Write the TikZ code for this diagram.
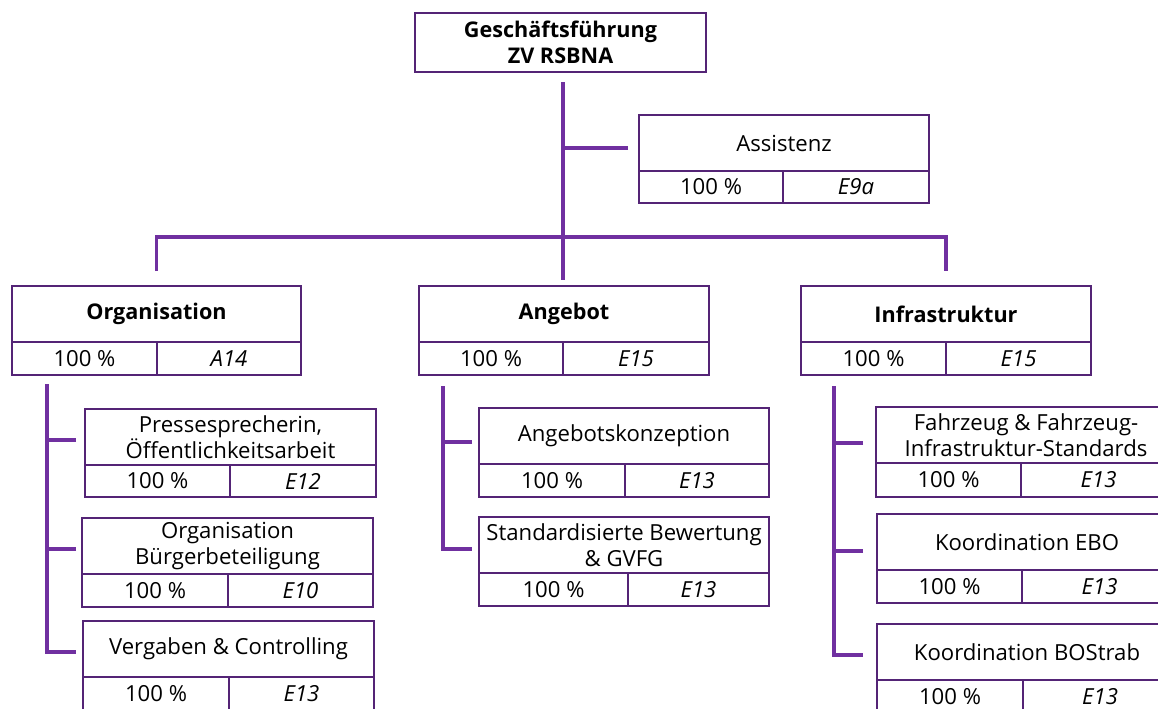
\documentclass[tikz,border=0pt]{standalone}
\usepackage{fontspec}
\setmainfont{Open Sans}
\usetikzlibrary{calc}

\definecolor{boxlila}{RGB}{84,36,118}
\definecolor{linklila}{RGB}{112,48,160}

\tikzset{
  feld/.style={draw=boxlila, line width=1.1pt, inner sep=1pt, outer sep=0pt, anchor=north west,
    align=center, font=\fontsize{12.6}{14.5}\selectfont},
  kopf/.style={feld, font=\fontsize{12.3}{14.5}\selectfont\bfseries},
  stufe/.style={feld, font=\fontsize{12.6}{14.5}\selectfont\itshape},
  linie/.style={draw=linklila, line width=1.9pt},
}

% one position: name, x, y, width, left cell width, cell height, title, grade, title style
\newcommand{\stelle}[9]{%
  \node[#9, minimum width=#4*0.02cm, minimum height=56*0.02cm] (#1) at (#2,#3) {#7};
  \node[feld, minimum width=#5*0.02cm, minimum height=#6*0.02cm] (#1-l) at (#1.south west) {100 \%};
  \node[stufe, minimum width=(#4-#5)*0.02cm, minimum height=#6*0.02cm] (#1-r) at (#1-l.north east) {#8};
}

\begin{document}
\begin{tikzpicture}[x=0.02cm, y=-0.02cm]
  \useasboundingbox (0,0) rectangle (1158,708);
  \clip (0,0) rectangle (1158,708);

  % Head
  \node[kopf, minimum width=291*0.02cm, minimum height=59*0.02cm] (gf) at (415,13)
    {Geschäftsführung\\ZV RSBNA};

  % Staff position
  \stelle{assist}{639}{115}{290}{144}{32}{Assistenz}{E9a}{feld}

  % Departments
  \stelle{org}{12}{286}{289}{145}{33}{Organisation}{A14}{kopf}
  \stelle{ang}{419}{286}{290}{144}{33}{Angebot}{E15}{kopf}
  \stelle{inf}{801}{286}{290}{145}{33}{Infrastruktur}{E15}{kopf}

  % Organisation
  \stelle{presse}{85}{409}{291}{145}{32}{Pressesprecherin,\\Öffentlichkeitsarbeit}{E12}{feld}
  \stelle{buerger}{82}{518}{291}{146}{33}{Organisation\\Bürgerbeteiligung}{E10}{feld}
  \stelle{vergabe}{83}{621}{291}{146}{33}{Vergaben \& Controlling}{E13}{feld}

  % Angebot
  \stelle{konz}{479}{408}{290}{146}{33}{Angebotskonzeption}{E13}{feld}
  \stelle{bewert}{479}{517}{290}{149}{33}{Standardisierte Bewertung\\\& GVFG}{E13}{feld}

  % Infrastruktur
  \stelle{fahrz}{876}{407}{300}{145}{34}{Fahrzeug \& Fahrzeug-\\Infrastruktur-Standards}{E13}{feld}
  \stelle{ebo}{877}{514}{300}{145}{33}{Koordination EBO}{E13}{feld}
  \stelle{bostrab}{877}{624}{300}{146}{33}{Koordination BOStrab}{E13}{feld}

  % Main trunk and bus
  \coordinate (bus) at (563,237);
  \coordinate (gf-out) at ($(gf.south -| bus)+(0,10)$);
  \draw[linie] (gf-out) -- ($(ang.north -| bus)+(0,-6)$);
  \draw[linie] ($(org.north)+(0,-15)$) |- (bus) -| ($(inf.north)+(0,-15)$);
  \coordinate (a-in) at ($(assist.west)+(-11,5)$);
  \draw[linie] (a-in) -- (a-in -| bus);

  % Sub trunks
  \coordinate (org-trunk) at ($(org-l.south west)+(35,9)$);
  \coordinate (presse-in) at ($(presse.west)+(-9,3)$);
  \coordinate (buerger-in) at ($(buerger.west)+(-6,3)$);
  \coordinate (vergabe-in) at ($(vergabe.west)+(-7,3)$);
  \draw[linie] (org-trunk) |- (vergabe-in);
  \draw[linie] (presse-in) -- (presse-in -| org-trunk);
  \draw[linie] (buerger-in) -- (buerger-in -| org-trunk);

  \coordinate (ang-trunk) at ($(ang-l.south west)+(24,11)$);
  \coordinate (konz-in) at ($(konz.west)+(-7,6)$);
  \coordinate (bewert-in) at ($(bewert.west)+(-7,4)$);
  \draw[linie] (ang-trunk) |- (bewert-in);
  \draw[linie] (konz-in) -- (konz-in -| ang-trunk);

  \coordinate (inf-trunk) at ($(inf-l.south west)+(33,11)$);
  \coordinate (fahrz-in) at ($(fahrz.west)+(-13,8)$);
  \coordinate (ebo-in) at ($(ebo.west)+(-14,9)$);
  \coordinate (bostrab-in) at ($(bostrab.west)+(-14,3)$);
  \draw[linie] (inf-trunk) |- (bostrab-in);
  \draw[linie] (fahrz-in) -- (fahrz-in -| inf-trunk);
  \draw[linie] (ebo-in) -- (ebo-in -| inf-trunk);
\end{tikzpicture}
\end{document}
